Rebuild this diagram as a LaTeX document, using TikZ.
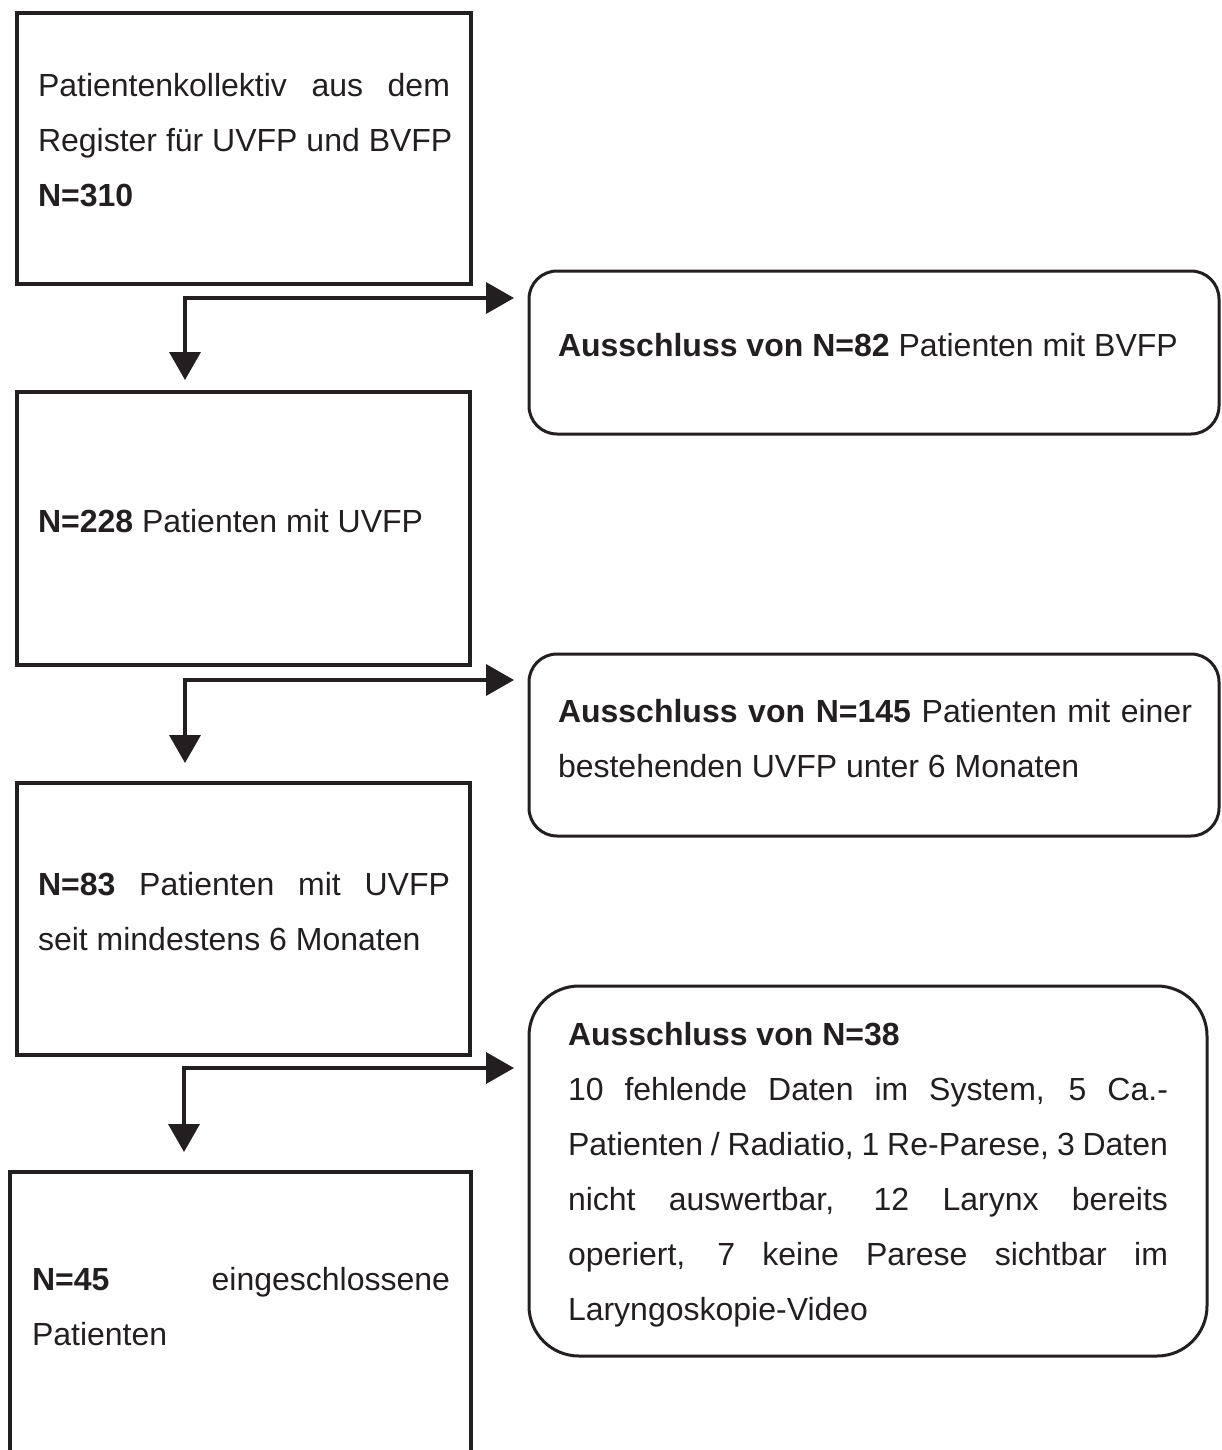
\documentclass[tikz,border=0pt]{standalone}
\usepackage{fontspec}
\setmainfont{Liberation Sans}
\usetikzlibrary{arrows.meta}
\definecolor{ink}{HTML}{231F20}
\begin{document}
\begin{tikzpicture}[x=1pt,y=-1pt,
  sqbox/.style={draw=ink, line width=3.6pt, rectangle, outer sep=0pt, inner sep=0pt, anchor=north west},
  rbox/.style={draw=ink, line width=3pt, rectangle, rounded corners=28pt, outer sep=0pt, inner sep=0pt, anchor=north west},
  txt/.style={anchor=base west, inner sep=0pt, outer sep=0pt, text=ink, font=\fontsize{32}{55}\selectfont},
  arr/.style={draw=ink, line width=3.6pt, line cap=rect, -{Triangle[length=28pt,width=31pt]}}
]
\useasboundingbox (0,0) rectangle (1222,1450);

% left column boxes
\node[sqbox, minimum width=454pt, minimum height=271pt] (b1) at (17,13) {};
\node[sqbox, minimum width=453pt, minimum height=273pt] (b3) at (17,392) {};
\node[sqbox, minimum width=453pt, minimum height=272pt] (b5) at (17,783) {};
\node[sqbox, minimum width=461pt, minimum height=400pt] (b6) at (10,1172) {};

% right column boxes
\node[rbox, minimum width=690pt, minimum height=163pt] (b2) at (529,271) {};
\node[rbox, minimum width=690pt, minimum height=182pt] (b4) at (529,654) {};
\node[rbox, rounded corners=50pt, minimum width=678pt, minimum height=370pt] (b7) at (529,986) {};

% connectors
\coordinate (j1) at (185,298);
\coordinate (j2) at (185,680);
\coordinate (j3) at (184,1068);
\draw[arr, shorten >=15pt] (j1) -- (b2.west |- j1);
\draw[arr, shorten >=12pt] (j1) -- (j1 |- b3.north);
\draw[arr, shorten >=15pt] (j2) -- (b4.west |- j2);
\draw[arr, shorten >=20pt] (j2) -- (j2 |- b5.north);
\draw[arr, shorten >=15pt] (j3) -- (b7.west |- j3);
\draw[arr, shorten >=20pt] (j3) -- (j3 |- b6.north);

% texts box 1
\node[txt] (t1a) at (38,97) {\makebox[412pt][s]{Patientenkollektiv aus dem}};
\node[txt] (t1b) at (38,152) {Register für UVFP und BVFP};
\node[txt] (t1c) at (38,207) {\textbf{N=310}};
% box 2
\node[txt] (t2a) at (558,356) {\textbf{Ausschluss von N=82} Patienten mit BVFP};
% box 3
\node[txt] (t3a) at (38,532) {\textbf{N=228} Patienten mit UVFP};
% box 4
\node[txt] (t4a) at (558,722) {\makebox[634pt][s]{\textbf{Ausschluss von N=145} Patienten mit einer}};
\node[txt] (t4b) at (558,777) {bestehenden UVFP unter 6 Monaten};
% box 5
\node[txt] (t5a) at (38,895) {\makebox[412pt][s]{\textbf{N=83} Patienten mit UVFP}};
\node[txt] (t5b) at (38,950) {seit mindestens 6 Monaten};
% box 6
\node[txt] (t6a) at (32,1290) {\makebox[418pt][s]{\textbf{N=45} eingeschlossene}};
\node[txt] (t6b) at (32,1345) {Patienten};
% box 7
\node[txt] (t7a) at (568,1045) {\textbf{Ausschluss von N=38}};
\node[txt] (t7b) at (568,1100) {\makebox[600pt][s]{10 fehlende Daten im System, 5 Ca.-}};
\node[txt] (t7c) at (568,1155) {\makebox[600pt][s]{Patienten / Radiatio, 1 Re-Parese, 3 Daten}};
\node[txt] (t7d) at (568,1210) {\makebox[600pt][s]{nicht auswertbar, 12 Larynx bereits}};
\node[txt] (t7e) at (568,1265) {\makebox[600pt][s]{operiert, 7 keine Parese sichtbar im}};
\node[txt] (t7f) at (568,1320) {Laryngoskopie-Video};
\end{tikzpicture}
\end{document}
